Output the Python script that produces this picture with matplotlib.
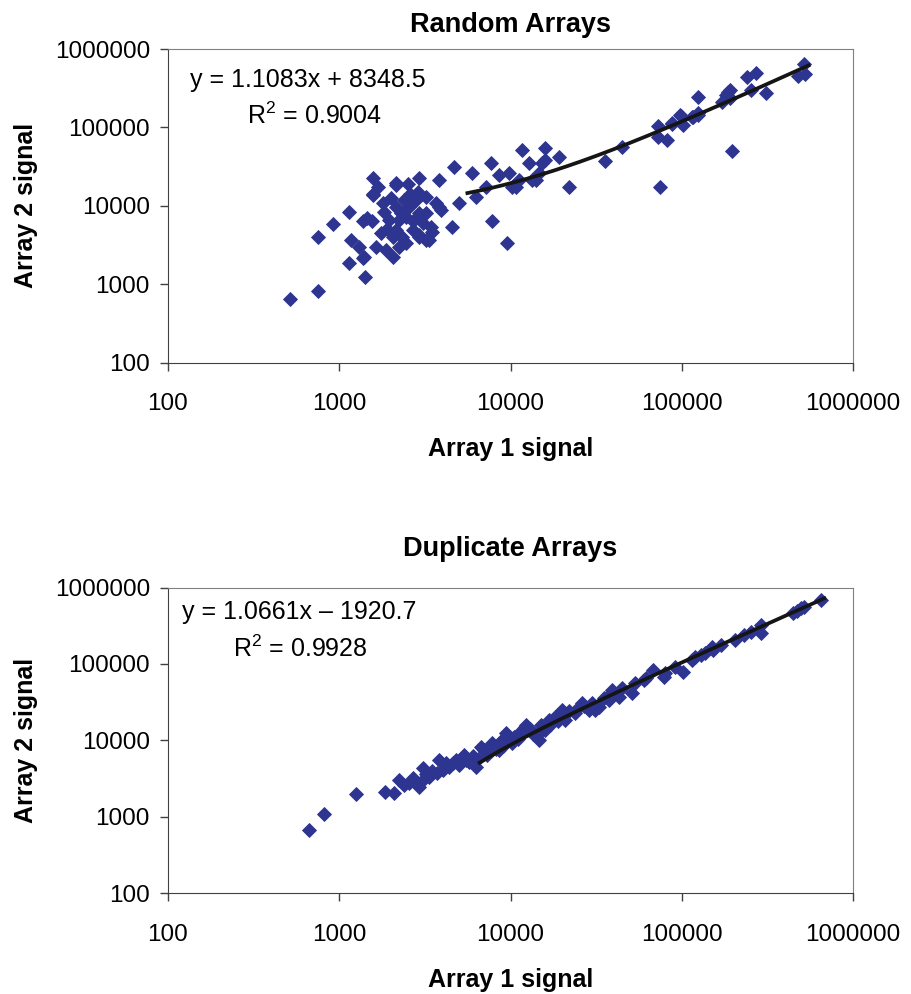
import numpy as np
import matplotlib
matplotlib.use("Agg")
import matplotlib.pyplot as plt
from matplotlib.ticker import FixedLocator, FixedFormatter, NullLocator

plt.rcParams['font.family'] = ['Liberation Sans', 'DejaVu Sans']
plt.rcParams['mathtext.fontset'] = 'custom'
plt.rcParams['mathtext.rm'] = 'Liberation Sans'
plt.rcParams['mathtext.it'] = 'Liberation Sans:italic'

# ---- data ----
decades = [100, 1000, 10000, 100000, 1000000]
decade_labels = ['100', '1000', '10000', '100000', '1000000']

# Random Arrays
rand_x = [513, 750, 750, 925, 1146, 1146, 1420, 1570, 1570, 1370,
          1172, 1312, 1370, 1640, 1790, 2140, 2505, 2930, 3830, 4690,
          5980, 7650, 11600, 7830, 9570, 4580, 2050, 1450, 1553, 1675,
          1830, 1403, 1875, 2145, 2865, 2400, 2145, 1960, 2240, 2450,
          2145, 2050, 2340, 2240, 2450, 2930, 3065, 2930, 3350, 3430,
          3660, 3920, 2680, 2565, 3210, 8550, 7160, 6270, 5010, 3830,
          9790, 11200, 10700, 12800, 16000, 19100, 16000, 14600, 14000, 21900,
          35400, 44600, 73100, 73100, 81700, 74800, 87300, 99000, 102000, 114000,
          125000, 125000, 171000, 187000, 190000, 197000, 239000, 273000, 253000, 310000,
          478000, 517000, 526000, 13400, 10200, 15300, 1570, 2600, 2800, 3210,
          3500, 3210, 2930, 88100, 97700, 117000, 182000, 191000, 125000, 2300,
          2700, 1900, 2000, 1750]
rand_y = [650, 830, 4040, 5800, 8260, 1880, 1250, 22400, 14100, 6400,
          3660, 3010, 2140, 3010, 10800, 19400, 18970, 22400, 21300, 31000,
          26400, 34800, 51500, 6400, 3380, 5400, 2240, 6900, 6460, 17500,
          8420, 2240, 2730, 18400, 15100, 11900, 9750, 6600, 6600, 7260,
          4910, 4040, 4040, 3010, 3320, 8020, 5970, 4040, 3660, 5400,
          10800, 8830, 4910, 9750, 13070, 24700, 17500, 13070, 10770, 9750,
          25900, 21300, 17500, 34800, 54100, 42300, 38400, 25900, 21300, 17500,
          37600, 56700, 104000, 76000, 69000, 17500, 113000, 140000, 107000, 137000,
          144000, 247000, 213000, 286000, 235000, 50500, 444000, 499000, 300000, 277000,
          453000, 644000, 481000, 21300, 17500, 34800, 13700, 14000, 12000, 8020,
          4680, 3660, 4240, 110000, 144000, 137000, 259000, 300000, 152000, 8000,
          6500, 5000, 12500, 4500]

# Duplicate Arrays
dup_x = [665, 820, 1253, 1857, 2095, 2240, 2565, 2930, 3065, 3350,
         3830, 4010, 4380, 4790, 5350, 5720, 6270, 6700, 7330, 7830,
         8770, 9380, 10240, 11200, 12200, 8950, 12240, 14600, 16000, 18300,
         20000, 20900, 23900, 26100, 28600, 32700, 37400, 39100, 42800, 51200,
         53500, 68300, 78200, 91400, 80000, 102000, 114000, 137000, 153000, 204000,
         255000, 292000, 292000, 447000, 499000, 653000, 39100, 31300, 16700, 14600,
         8550, 150000, 2400, 2700, 3000, 3200, 3500, 3700, 4200, 4600,
         5000, 5500, 6000, 6500, 7000, 7600, 8200, 9000, 9600, 10500,
         11000, 13000, 13500, 15000, 17000, 19000, 22000, 24500, 27000, 30000,
         35000, 45000, 60000, 62000, 120000, 130000, 170000, 230000, 470000, 520000]
dup_y = [676, 1094, 2000, 2140, 2080, 3050, 2750, 2490, 4330, 3370,
         5560, 4110, 4550, 5560, 6460, 5290, 4550, 8300, 6460, 9190,
         9190, 12400, 9190, 12400, 15100, 10200, 15950, 10200, 13700, 20500,
         25000, 18500, 22600, 30600, 25000, 27700, 33800, 45700, 37400, 41400,
         56000, 83600, 68300, 92200, 75500, 77800, 113000, 138000, 152000, 206000,
         264000, 323000, 252000, 461000, 535000, 687000, 43500, 25000, 18500, 12400,
         7510, 168000, 2600, 3200, 2900, 3600, 4000, 3700, 5000, 5000,
         4800, 5600, 6200, 5800, 7400, 8000, 7800, 8500, 11000, 11000,
         10500, 14000, 12000, 16000, 16000, 18000, 24000, 26000, 28000, 31000,
         36000, 48000, 62000, 66000, 125000, 133000, 175000, 240000, 500000, 560000]

# trendline equations as printed on the chart
rand_slope, rand_icept, rand_r2 = 1.1083, 8348.5, 0.9004
dup_slope, dup_icept, dup_r2 = 1.0661, -1920.7, 0.9928
rand_fit_range = (5600, 550000)
dup_fit_range = (6600, 680000)

marker_color = '#2e3591'


def panel(ax, xs, ys, slope, icept, r2, fit_range, title, title_pad, eq_pos, r2_pos):
    ax.plot(xs, ys, linestyle='none', marker='D', markersize=7.2,
            color=marker_color, markeredgecolor=marker_color, markeredgewidth=0.6)
    fx = np.geomspace(fit_range[0], fit_range[1], 200)
    ax.plot(fx, slope * fx + icept, color='#151515', linewidth=2.7)

    ax.set_xscale('log')
    ax.set_yscale('log')
    ax.set_xlim(100, 1000000)
    ax.set_ylim(100, 1000000)
    for axis in (ax.xaxis, ax.yaxis):
        axis.set_major_locator(FixedLocator(decades))
        axis.set_major_formatter(FixedFormatter(decade_labels))
        axis.set_minor_locator(NullLocator())
    ax.tick_params(axis='x', direction='out', length=6, width=1, pad=16,
                   labelsize=17.5, color='#404040')
    ax.tick_params(axis='y', direction='out', length=6, width=1, pad=7,
                   labelsize=17.5, color='#404040')
    for side in ['left', 'bottom']:
        ax.spines[side].set_color('#404040')
    for side in ['top', 'right']:
        ax.spines[side].set_color('#808080')

    ax.set_title(title, fontsize=19.5, fontweight='bold', pad=title_pad)
    ax.set_xlabel('Array 1 signal', fontsize=18, fontweight='bold', labelpad=16)
    ax.set_ylabel('Array 2 signal', fontsize=18, fontweight='bold', labelpad=12)

    sign = '+' if icept >= 0 else '\u2013'
    ax.text(eq_pos[0], eq_pos[1], 'y = %.4fx %s %.1f' % (slope, sign, abs(icept)),
            transform=ax.transAxes, fontsize=18, va='center', ha='left')
    ax.text(r2_pos[0], r2_pos[1], 'R$^{2}$ = %.4f' % r2,
            transform=ax.transAxes, fontsize=18, va='center', ha='left')


fig = plt.figure(figsize=(9.11, 9.94), dpi=100)
ax1 = fig.add_axes([0.1844, 0.6351, 0.752, 0.3156])
ax2 = fig.add_axes([0.1844, 0.1013, 0.752, 0.3076])

panel(ax1, rand_x, rand_y, rand_slope, rand_icept, rand_r2, rand_fit_range,
      'Random Arrays', 12, (0.032, 0.901), (0.115, 0.786))
panel(ax2, dup_x, dup_y, dup_slope, dup_icept, dup_r2, dup_fit_range,
      'Duplicate Arrays', 23, (0.020, 0.921), (0.095, 0.801))

fig.savefig('out.png', dpi=100)
